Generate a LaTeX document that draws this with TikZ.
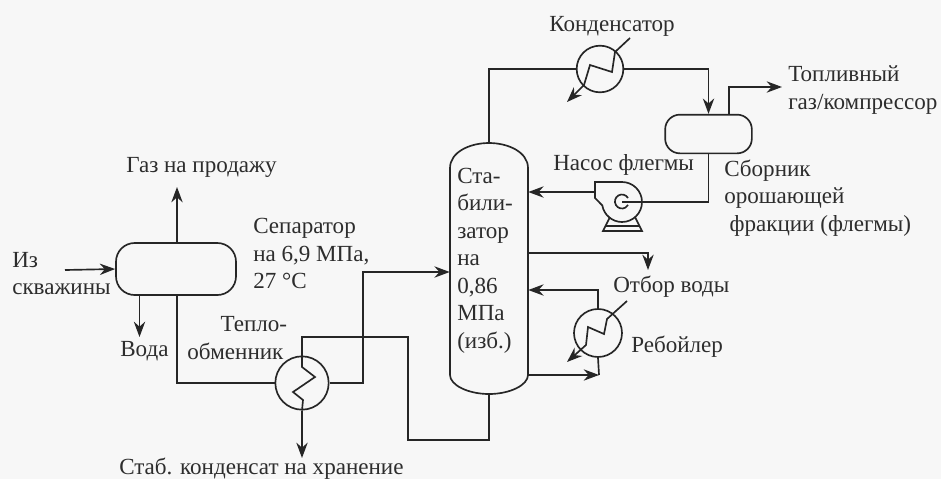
\documentclass[tikz,border=0pt]{standalone}
\usepackage{fontspec}
\setmainfont{Liberation Serif}
\usepackage{tikz}
\usetikzlibrary{arrows.meta, positioning, calc}
\definecolor{tinta}{RGB}{38,38,38}
\definecolor{letra}{RGB}{45,45,45}
\definecolor{papel}{RGB}{247,247,247}
\tikzset{
  pipe/.style={line width=1.25pt, draw=tinta},
  flow/.style={pipe, -{Stealth[length=11.5pt,width=8.5pt]}},
  drum/.style={pipe, rectangle, rounded corners=14pt, inner sep=0pt},
  exch/.style={pipe, circle, inner sep=0pt},
  lbl/.style={font=\fontsize{17.3}{20.6}\selectfont, text=letra, inner sep=0pt, anchor=west, align=left},
}
\begin{document}
\begin{tikzpicture}[x=0.75pt, y=-0.75pt]
    \fill[papel] (0,0) rectangle (941,479);
    \useasboundingbox (0,0) rectangle (941,479);

    % сепаратор и стабилизатор
    \node[drum, minimum width=90pt, minimum height=39pt] (sep) at (176,269) {};
    \draw[pipe] (450,375) -- (450,168) .. controls (450,152) and (470,143) .. (489,143)
      .. controls (508,143) and (528,152) .. (528,168) -- (528,375)
      .. controls (528,385) and (510,394) .. (489,394)
      .. controls (468,394) and (450,385) .. (450,375) -- cycle;
    \node[minimum width=58.5pt, minimum height=188pt, inner sep=0pt] (stab) at (489,268.5) {};
    \node[drum, minimum width=65pt, minimum height=29pt, rounded corners=11pt] (rfx) at (708.5,134) {};

    % теплообменники
    \node[exch, minimum size=40pt] (hx) at (302,383) {};
    \node[exch, minimum size=35pt] (cond) at (600,69) {};
    \node[exch, minimum size=36pt] (reb) at (598,333) {};
    \draw[pipe] (hx.north) -- (302,367) -- (315,377) -- (293,392) -- (303,400) -- (hx.south);
    \draw[flow] (630,38) -- (615,52) -- (612,72) -- (590,65) -- (584,85) -- (567,102);
    \draw[flow] (627,301) -- (607,319) -- (604,334) -- (588,327) -- (586,345) -- (567,362);

    % насос
    \node[circle, minimum size=30pt, inner sep=0pt] (pump) at (622,202) {};
    \draw[pipe, fill=papel] (595,182) -- (622,182) arc (-90:170:20) -- (597,200) -- (595,198) -- cycle;
    \draw[pipe] (628,198) arc (-30:-330:7);
    \draw[pipe] (610,217) -- (603,231) -- (642,231) -- (635,217);
    \draw[pipe] (605,226) -- (640,226);

    % потоки
    \draw[flow] (65,270) -- (sep.west);
    \draw[flow] (sep.north -| 177,0) -- (177,187);
    \draw[flow] (sep.south -| 139.5,0) -- (139.5,337);
    \draw[pipe] (sep.south -| 177,0) |- (hx.west);
    \draw[flow] (hx.east) -| (363,272) -- (stab.west |- 0,272);
    \draw[pipe] (hx.north) |- (408,337) |- (489,440) -- (stab.south);
    \draw[flow] (hx.south) -- (302,458);
    \draw[pipe] (stab.north) |- (cond.west);
    \draw[flow] (cond.east) -| (rfx.north);
    \draw[flow] (rfx.north -| 729,0) |- (782,87);
    \draw[pipe] (rfx.south) |- (pump.center);
    \draw[flow] (595,192) -- (stab.east |- 0,192);
    \draw[flow] (stab.east |- 0,253) -| (648,270);
    \draw[flow] (reb.north) |- (stab.east |- 0,290);
    \draw[flow] (stab.east |- 0,375) -- (599,375);
    \draw[pipe] (599,375) -- (reb.south);

    % подписи
    \node[lbl] (lgas) at (126,167) {Газ на продажу};
    \node[lbl] (lin) at (12,273.5) {Из\\скважины};
    \node[lbl] (lvoda) at (120,351) {Вода};
    \node[lbl] (lsep) at (253,253.5) {Сепаратор\\на 6,9 МПа,\\27 °C};
    \node[lbl] (lhx) at (187,338) {\hspace*{25pt}Тепло-\\обменник};
    \node[lbl] (lprod) at (119,468.5) {Стаб. конденсат на хранение};
    \node[lbl] (lcol) at (457,260.5) {Ста-\\били-\\затор\\на\\0,86\\МПа\\(изб.)};
    \node[lbl] (lcond) at (549,26) {Конденсатор};
    \node[lbl] (lfuel) at (788,90) {Топливный\\газ/компрессор};
    \node[lbl] (lpump) at (553,165) {Насос флегмы};
    \node[lbl] (lrfx) at (724,198) {Сборник\\орошающей\\\hspace*{4pt}фракции (флегмы)};
    \node[lbl] (lvodb) at (613,287) {Отбор воды};
    \node[lbl] (lreb) at (631,347) {Ребойлер};
  \end{tikzpicture}
\end{document}
